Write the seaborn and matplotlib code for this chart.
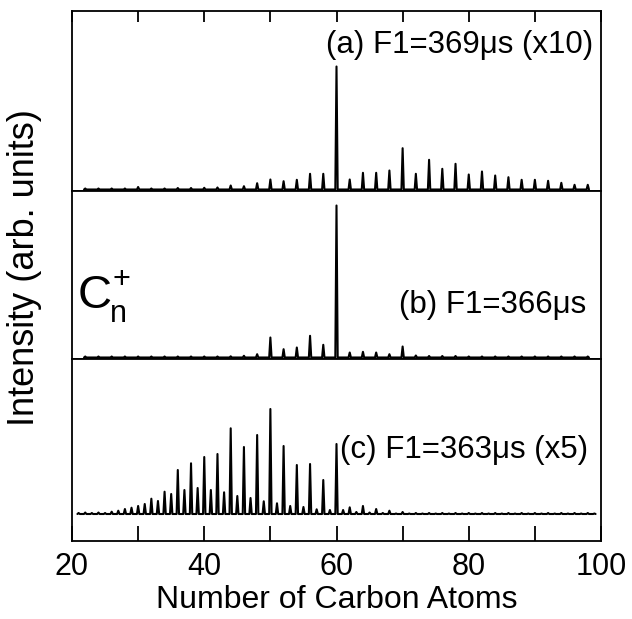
import numpy as np
import pandas as pd
import matplotlib
matplotlib.use("Agg")
import matplotlib.pyplot as plt
import seaborn as sns

# ---- data (peak intensities, arbitrary units) ----
n_a = list(range(22, 100, 2))
h_a = [1, 1, 1, 1, 2.5, 1, 1, 1.5, 1.5, 1.7, 2, 4, 3.3, 6.3, 10, 8.3, 9.7, 15.7, 15.7,
       123, 10, 16.7, 16.7, 19, 41.3, 15.7, 29.7, 20.7, 25.7, 15, 18, 14, 12.3, 9.7,
       9.7, 8.7, 6.7, 4.7, 4.7]

n_b = list(range(22, 100, 2))
h_b = [1, 1, 1, 1, 1, 1, 1, 1, 1, 1, 1, 1.2, 1.7, 3.3, 20, 8.3, 10, 21.7, 12.7,
       152, 5, 5.7, 5, 3.3, 11, 2, 1.5, 1.5, 1.5, 1, 1, 1, 1, 1, 1, 1, 1, 1, 1]

n_c = list(range(21, 100))
h_c = [1, 1.5, 1, 1.5, 1, 2.3, 3.3, 5, 6.3, 8, 10, 15.3, 13, 22.3, 20, 44, 24, 50.7,
       26, 57, 24, 60, 21.7, 85.7, 18, 67, 16, 79, 12.7, 105, 10.7, 68, 8, 49, 7, 50,
       4.7, 34, 4, 70, 4, 6.7, 2, 8, 1.5, 5, 1, 3.3, 0.5, 2,
       0.5, 1, 0.5, 1, 0.5, 1, 0.5, 1, 0.5, 1, 0.5, 1, 0.5, 1, 0.5, 1, 0.5, 1,
       0.5, 1, 0.5, 1, 0.5, 1, 0.5, 1, 0.5, 1, 0.5]

labels = ["(a) F1=369\u03bcs (x10)", "(b) F1=366\u03bcs", "(c) F1=363\u03bcs (x5)"]
xticks_major = [20, 40, 60, 80, 100]
xticks_minor = [30, 50, 70, 90]


def trace(ns, hs, w=0.18):
    xs, ys = [], []
    for n, h in zip(ns, hs):
        xs += [n - w, n, n + w]
        ys += [0, h, 0]
    return pd.DataFrame({"n": xs, "I": ys})


sns.set_style("white")
plt.rcParams["font.family"] = ["Liberation Sans", "DejaVu Sans"]
plt.rcParams["text.color"] = "black"
plt.rcParams["xtick.color"] = "black"
plt.rcParams["xtick.labelcolor"] = "black"
plt.rcParams["axes.labelcolor"] = "black"
plt.rcParams["axes.linewidth"] = 1.3

fig = plt.figure(figsize=(6.32, 6.19), dpi=100)
gs = fig.add_gridspec(3, 1, height_ratios=[180, 168, 182], hspace=0,
                      left=72 / 632, right=601 / 632, top=1 - 11 / 619, bottom=1 - 541 / 619)
axes = [fig.add_subplot(gs[i]) for i in range(3)]

data = [(n_a, h_a), (n_b, h_b), (n_c, h_c)]
ylims = [(-1.5, 178.5), (-1.5, 166.5), (-27, 155)]
text_pos = [(0.985, 0.81), (0.973, 0.32), (0.975, 0.50)]

for ax, (ns, hs), yl, lab, (tx, ty) in zip(axes, data, ylims, labels, text_pos):
    df = trace(ns, hs)
    sns.lineplot(data=df, x="n", y="I", ax=ax, sort=False, estimator=None,
                 color="black", lw=1.5)
    ax.set_xlim(20, 100)
    ax.set_ylim(*yl)
    ax.set_yticks([])
    ax.set_xlabel("")
    ax.set_ylabel("")
    for s in ax.spines.values():
        s.set_color("black")
        s.set_linewidth(1.3)
    ax.text(tx, ty, lab, transform=ax.transAxes, ha="right", va="center",
            fontsize=22.5, color="black")
    ax.tick_params(axis="x", which="both", bottom=False, top=False,
                   labelbottom=False)

axes[0].set_xticks(xticks_major)
axes[0].set_xticks(xticks_minor, minor=True)
axes[0].tick_params(axis="x", which="both", top=True, bottom=False,
                    direction="in", length=8, width=1.3, labelbottom=False)

axes[2].set_xticks(xticks_major)
axes[2].set_xticks(xticks_minor, minor=True)
axes[2].tick_params(axis="x", which="both", bottom=True, direction="in",
                    length=11, width=1.3, labelbottom=True, labelsize=22, pad=8)
axes[2].set_xticklabels([str(t) for t in xticks_major])
axes[2].set_xlabel("Number of Carbon Atoms", fontsize=23, labelpad=2)

# C_n^+ label
axes[1].text(0.01, 0.375, "C", transform=axes[1].transAxes, fontsize=34,
             ha="left", va="center")
axes[1].text(0.072, 0.27, "n", transform=axes[1].transAxes, fontsize=22,
             ha="left", va="center")
axes[1].text(0.076, 0.47, "+", transform=axes[1].transAxes, fontsize=22,
             ha="left", va="center")

fig.text(25 / 632, 1 - 268 / 619, "Intensity (arb. units)", rotation=90,
         ha="center", va="center", fontsize=26)

fig.savefig("out.png", dpi=100)
